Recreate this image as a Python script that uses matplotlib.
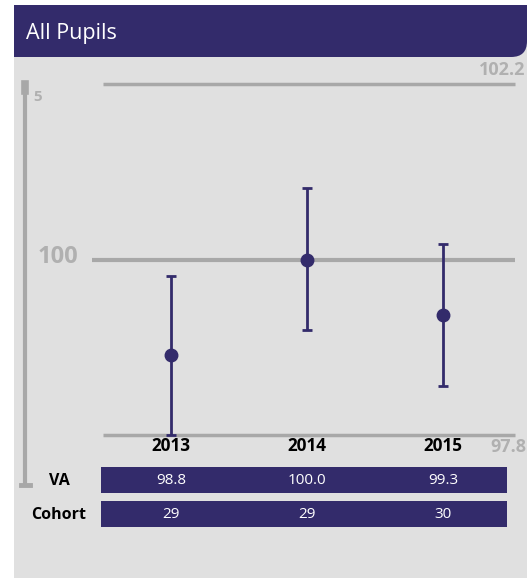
import matplotlib.pyplot as plt
from matplotlib.patches import Rectangle, FancyBboxPatch
from matplotlib.lines import Line2D

plt.rcParams['font.family'] = ['Open Sans', 'DejaVu Sans']

years = ['2013', '2014', '2015']
va = [98.8, 100.0, 99.3]
upper = [99.79, 100.9, 100.19]
lower = [97.8, 99.11, 98.41]
cohort = [29, 29, 30]
y_min, y_mid, y_max = 97.8, 100, 102.2

purple = '#332b6b'
panel = '#e0e0e0'
grey = '#a8a8a8'
W, H = 527, 578

fig = plt.figure(figsize=(W / 100, H / 100), dpi=100)
fig.patch.set_facecolor('white')

def fx(px):
    return px / W

def fy(py):
    return 1 - py / H

# background panel and header
fig.patches.append(Rectangle((fx(14), 0), fx(W - 14), fy(57), transform=fig.transFigure,
                             facecolor=panel, edgecolor='none', zorder=-3))
fig.patches.append(Rectangle((fx(14), fy(57)), fx(W - 14), (57 - 5) / H, transform=fig.transFigure,
                             facecolor=purple, edgecolor='none', zorder=-2))
# rounded bottom-right corner
fig.patches.append(Rectangle((fx(W - 16), fy(57)), fx(16), 16 / H, transform=fig.transFigure,
                             facecolor=panel, edgecolor='none', zorder=-2))
fig.patches.append(FancyBboxPatch((fx(W - 40), fy(57)), fx(40), 40 / H, transform=fig.transFigure,
                                  boxstyle='round,pad=0,rounding_size=0.03', mutation_aspect=W / H,
                                  facecolor=purple, edgecolor='none', zorder=-1))
fig.text(fx(26), fy(33), 'All Pupils', color='white', fontsize=15.5, va='center', ha='left')

# left scale bar
fig.add_artist(Line2D([fx(25), fx(25)], [fy(85), fy(484)], color=grey, lw=3))
fig.add_artist(Line2D([fx(25), fx(25)], [fy(84), fy(91)], color=grey, lw=5.5))
fig.add_artist(Line2D([fx(21), fx(30)], [fy(485), fy(485)], color=grey, lw=3.5))
fig.text(fx(33), fy(97), '5', color='#b0b0b0', fontsize=11, fontweight='bold', va='center')

# main plot axes
x0, x1 = -0.581, 2.529
ax = fig.add_axes([fx(92), fy(435), fx(515 - 92), (435 - 84) / H])
ax.set_zorder(5)
ax.set_xlim(x0, x1)
ax.set_ylim(y_min, y_max)
ax.axis('off')
xs = list(range(len(years)))

ax.hlines([y_max, y_min], -0.5, x1, color=grey, lw=2.5, clip_on=False)
ax.hlines(y_mid, x0, x1, color=grey, lw=3, clip_on=False)

yerr = [[v - l for v, l in zip(va, lower)], [u - v for v, u in zip(va, upper)]]
ax.errorbar(xs, va, yerr=yerr, fmt='o', color=purple, ms=9, elinewidth=2,
            capsize=3.5, capthick=2, clip_on=False, zorder=3)

ax.text(x1 + 0.08, y_max + 0.18, f'{y_max}', color='#b0b0b0', fontsize=13,
        fontweight='bold', ha='right', va='center', clip_on=False)
ax.text(x1 + 0.08, y_min - 0.15, f'{y_min}', color='#b0b0b0', fontsize=13,
        fontweight='bold', ha='right', va='center', clip_on=False)
ax.text(x0 - 0.1, y_mid + 0.03, '100', color='#b0b0b0', fontsize=17,
        fontweight='bold', ha='right', va='center', clip_on=False)
for x, yr in zip(xs, years):
    ax.text(x, y_min - 0.14, yr, color='black', fontsize=12.3, fontweight='bold',
            ha='center', va='center', clip_on=False)

# table rows
tab = fig.add_axes([fx(92), fy(527), fx(515 - 92), (527 - 467) / H])
tab.set_zorder(5)
tab.set_xlim(x0, x1)
tab.set_ylim(527, 467)
tab.axis('off')
left = (101 - 171) / 136
right = (507 - 171) / 136
rows = [('VA', [f'{v:.1f}' for v in va], 467), ('Cohort', [str(c) for c in cohort], 501)]
for label, vals, top in rows:
    tab.add_patch(Rectangle((left, top), right - left, 26, facecolor=purple, edgecolor='none',
                            clip_on=False))
    for x, v in zip(xs, vals):
        tab.text(x, top + 13, v, color='white', fontsize=11, ha='center', va='center')
    fig.text(fx(59), fy(top + 14), label, color='black', fontsize=11.5, fontweight='bold',
             ha='center', va='center')

fig.savefig('out.png', dpi=100)
